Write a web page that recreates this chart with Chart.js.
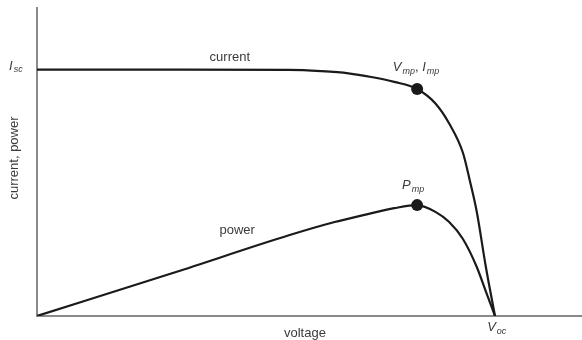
<!DOCTYPE html>
<html>
<head>
<meta charset="utf-8">
<script src="https://cdn.jsdelivr.net/npm/chart.js@4.4.0/dist/chart.umd.min.js"></script>
<style>
  html, body { margin:0; padding:0; background:#fff; }
  #wrap { width:582px; height:340px; }
</style>
</head>
<body>
<div id="wrap"><canvas id="ivChart" width="582" height="340"></canvas></div>
<script>
// I-V curve (voltage normalised to Voc = 1)
const currentV = [0, 0.30, 0.55, 0.62, 0.68, 0.73, 0.78, 0.83, 0.87, 0.90, 0.93, 0.945, 0.96, 0.98, 1.0];
const currentI = [0.80, 0.80, 0.799, 0.795, 0.788, 0.776, 0.760, 0.737, 0.69, 0.625, 0.53, 0.44, 0.34, 0.16, 0];

// P-V curve
const powerV = [0, 0.30, 0.55, 0.65, 0.72, 0.78, 0.83, 0.87, 0.90, 0.93, 0.96, 0.98, 1.0];
const powerP = [0, 0.141, 0.262, 0.305, 0.330, 0.350, 0.360, 0.338, 0.305, 0.25, 0.16, 0.08, 0];

// maximum power point markers
const mppV = [0.83, 0.83];
const mppY = [0.737, 0.360];

const toXY = (xs, ys) => xs.map((x, i) => ({ x, y: ys[i] }));

const ink = "#1a1a1a";
const txt = "#3a3a3a";
const fam = "'Liberation Sans', Arial, sans-serif";

// labels placed in data units
const notes = [
  { parts: [["current"]], x: 0.421, y: 0.841, align: "center" },
  { parts: [["power"]], x: 0.437, y: 0.279, align: "center" },
  { parts: [["voltage"]], x: 0.585, y: -0.055, align: "center" },
  { parts: [["current, power"]], x: -0.050, y: 0.513, align: "center", rotate: true },
  { parts: [["I", "i"], ["sc", "s"]], x: -0.061, y: 0.812 },
  { parts: [["V", "i"], ["mp", "s"], [", "], ["I", "i"], ["mp", "s"]], x: 0.777, y: 0.808 },
  { parts: [["P", "i"], ["mp", "s"]], x: 0.797, y: 0.425 },
  { parts: [["V", "i"], ["oc", "s"]], x: 0.983, y: -0.036 }
];

function fontFor(kind) {
  if (kind === "i") return "italic 13px " + fam;
  if (kind === "s") return "italic 9px " + fam;
  return "13px " + fam;
}

const notePlugin = {
  id: "notes",
  afterDatasetsDraw(chart) {
    const { ctx, scales: { x, y } } = chart;
    ctx.save();
    ctx.fillStyle = txt;
    ctx.textBaseline = "middle";
    notes.forEach(n => {
      let px = x.getPixelForValue(n.x);
      const py = y.getPixelForValue(n.y);
      let w = 0;
      n.parts.forEach(p => { ctx.font = fontFor(p[1]); w += ctx.measureText(p[0]).width; });
      ctx.save();
      ctx.translate(px, py);
      if (n.rotate) ctx.rotate(-Math.PI / 2);
      let cx = n.align === "center" ? -w / 2 : 0;
      n.parts.forEach(p => {
        ctx.font = fontFor(p[1]);
        ctx.textAlign = "left";
        ctx.fillText(p[0], cx, p[1] === "s" ? 4 : 0);
        cx += ctx.measureText(p[0]).width + (p[1] === "i" ? 1 : 0);
      });
      ctx.restore();
    });
    ctx.restore();
  }
};

const ctx = document.getElementById("ivChart").getContext("2d");
const ivChart = new Chart(ctx, {
  type: "line",
  data: {
    datasets: [
      { label: "current", data: toXY(currentV, currentI), borderColor: ink, borderWidth: 2.2, pointRadius: 0, tension: 0.4, cubicInterpolationMode: "monotone", fill: false },
      { label: "power", data: toXY(powerV, powerP), borderColor: ink, borderWidth: 2.2, pointRadius: 0, tension: 0.4, cubicInterpolationMode: "monotone", fill: false },
      { label: "mpp", data: toXY(mppV, mppY), showLine: false, pointRadius: 6, pointBackgroundColor: ink, pointBorderColor: ink, pointBorderWidth: 0 }
    ]
  },
  options: {
    responsive: false,
    animation: false,
    layout: { autoPadding: false, padding: { left: 0, top: 8, right: 0, bottom: 0 } },
    plugins: { legend: { display: false }, tooltip: { enabled: false } },
    scales: {
      x: { type: "linear", min: 0, max: 1.19, ticks: { display: false }, grid: { display: false }, border: { color: "#8a8a8a", width: 2 },
           afterFit: s => { s.height = 24; } },
      y: { min: 0, max: 1, ticks: { display: false }, grid: { display: false }, border: { color: "#8a8a8a", width: 2 },
           afterFit: s => { s.width = 37; } }
    }
  },
  plugins: [notePlugin]
});
</script>
</body>
</html>
